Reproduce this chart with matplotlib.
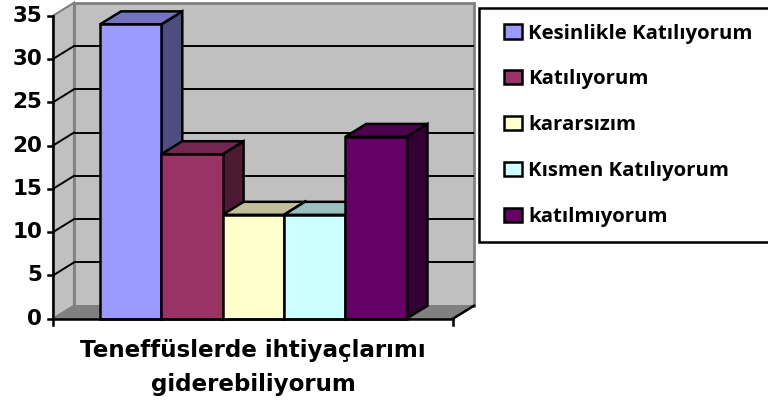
import matplotlib
matplotlib.use('Agg')
import matplotlib.pyplot as plt
from matplotlib.patches import Polygon, Rectangle, Patch

categories = ['Kesinlikle Katılıyorum', 'Katılıyorum', 'kararsızım', 'Kısmen Katılıyorum', 'katılmıyorum']
values = [34, 19, 12, 12, 21]
front_colors = ['#9999FF', '#993366', '#FFFFCC', '#CCFFFF', '#660066']
top_colors = ['#7373BF', '#732650', '#BFBF99', '#99BFBF', '#4D004D']
side_colors = ['#4D4D80', '#4D1A33', '#808066', '#668080', '#330033']
y_ticks = [0, 5, 10, 15, 20, 25, 30, 35]
x_title = 'Teneffüslerde ihtiyaçlarımı\ngiderebiliyorum'

W, H = 768, 403
BAR_PX = 61.3
XMAX = 400 / BAR_PX
DX = 21 / BAR_PX
DY = 13 / (303 / 35)
START = 47 / BAR_PX

plt.rcParams['font.family'] = ['Open Sans', 'DejaVu Sans']
plt.rcParams['font.weight'] = 'bold'

fig = plt.figure(figsize=(W / 100, H / 100), dpi=100)
ax = fig.add_axes([53 / W, 1 - 318.7 / H, 400 / W, 303 / H])
ax.set_xlim(0, XMAX)
ax.set_ylim(0, 35)
ax.axis('off')


def poly(points, face, edge='black', lw=1.8, z=2):
    ax.add_patch(Polygon(points, closed=True, facecolor=face, edgecolor=edge, linewidth=lw,
                         zorder=z, clip_on=False, joinstyle='miter'))


top = 35 + DY
# walls and floor
poly([(DX, DY), (XMAX + DX, DY), (XMAX + DX, top), (DX, top)], '#C0C0C0', '#808080', 2)
poly([(0, 0), (DX, DY), (DX, top), (0, 35)], '#C0C0C0', '#808080', 1.5)
poly([(0, 0), (XMAX, 0), (XMAX + DX, DY), (DX, DY)], '#808080', '#808080', 1)

# gridlines
for t in y_ticks[1:]:
    if t < 35:
        ax.plot([DX, XMAX + DX], [t + DY, t + DY], color='black', lw=1.4, zorder=2.5,
                solid_capstyle='butt', clip_on=False)
        ax.plot([0, DX], [t, t + DY], color='black', lw=1.4, zorder=2.5, clip_on=False)

# bars
for i, v in enumerate(values):
    x0 = START + i
    x1 = x0 + 1
    z = 3 + i * 0.1
    poly([(x1, 0), (x1 + DX, DY), (x1 + DX, v + DY), (x1, v)], side_colors[i], z=z)
    poly([(x0, v), (x1, v), (x1 + DX, v + DY), (x0 + DX, v + DY)], top_colors[i], z=z)
    poly([(x0, 0), (x1, 0), (x1, v), (x0, v)], front_colors[i], z=z)

# axes lines and ticks
tick_x = 5 / BAR_PX
tick_y = 6.5 / (303 / 35)
ax.plot([0, 0], [-tick_y, 35], color='black', lw=1.8, zorder=5, clip_on=False)
ax.plot([0, XMAX], [0, 0], color='black', lw=1.8, zorder=5, clip_on=False)
ax.plot([XMAX, XMAX], [-tick_y, 0], color='black', lw=1.8, zorder=5, clip_on=False)
ax.plot([XMAX, XMAX + DX], [0, DY], color='black', lw=1.8, zorder=5, clip_on=False)
for t in y_ticks:
    ax.plot([-tick_x, 0], [t, t], color='black', lw=1.8, zorder=5, clip_on=False)
    ax.text(-tick_x - 6 / BAR_PX, t, str(t), ha='right', va='center', fontsize=15.5,
            family='DejaVu Sans', fontweight='bold', clip_on=False)

fig.text(253 / W, 1 - 367.5 / H, x_title, ha='center', va='center', fontsize=16.6,
         family='DejaVu Sans', fontweight='bold', linespacing=1.65)

# legend
fig.add_artist(Rectangle((478.5 / W, 1 - 241.5 / H), 300 / W, 233.5 / H, transform=fig.transFigure,
                         facecolor='white', edgecolor='black', linewidth=1.8))
handles = [Patch(facecolor=c, edgecolor='black', linewidth=1.8) for c in front_colors]
fig.legend(handles, categories, loc='upper left', bbox_to_anchor=(504 / W, 1 - 23.5 / H),
           frameon=False, fontsize=14.7, labelspacing=1.27, handlelength=0.88, handleheight=0.7,
           handletextpad=0.3, borderaxespad=0, borderpad=0)

plt.savefig('out.png', dpi=100)
